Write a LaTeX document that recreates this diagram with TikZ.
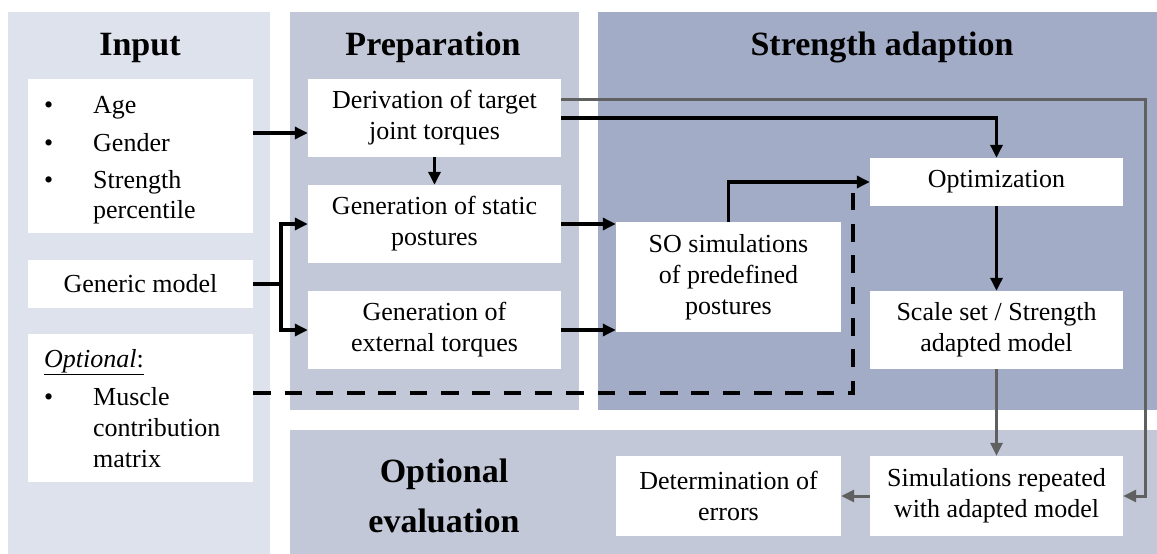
\documentclass[tikz,border=0pt]{standalone}
\usepackage{fontspec}
\setmainfont{Liberation Serif}
\usetikzlibrary{arrows.meta}
\definecolor{panelIn}{RGB}{222,226,236}
\definecolor{panelPrep}{RGB}{194,200,216}
\definecolor{panelStr}{RGB}{163,172,198}
\definecolor{lineGray}{RGB}{96,96,96}
\begin{document}
\begin{tikzpicture}[x=1pt,y=-1pt,
  box/.style={fill=white,inner sep=0pt,align=center,font=\fontsize{26}{31}\selectfont},
  ttl/.style={font=\fontsize{34}{40}\selectfont\bfseries,inner sep=0pt,anchor=base},
  txt/.style={font=\fontsize{26}{31}\selectfont,inner sep=0pt,anchor=base west},
  arr/.style={line width=3.5pt,-{Triangle[length=13pt,width=12pt]}},
  garr/.style={line width=3pt,draw=lineGray,-{Triangle[length=13pt,width=12pt]}},
  dline/.style={line width=4pt,dash pattern=on 17.5pt off 13.8pt}
]
\useasboundingbox (0,0) rectangle (1157,554);
% panels
\fill[panelIn] (8,12) rectangle (270,554);
\fill[panelPrep] (290,12) rectangle (579,410);
\fill[panelStr] (598,12) rectangle (1157,410);
\fill[panelPrep] (290,430) rectangle (1157,554);
% titles
\node[ttl] (tin) at (140,55) {Input};
\node[ttl] (tprep) at (433,55) {Preparation};
\node[ttl] (tstr) at (882,55) {Strength adaption};
\node[ttl] (tev1) at (444,482) {Optional};
\node[ttl] (tev2) at (444,532) {evaluation};
% input boxes
\node[box,minimum width=225pt,minimum height=154pt] (in1) at (140.5,156) {};
\node[txt] (b1) at (44,113) {•};
\node[txt] (w1) at (93,113) {Age};
\node[txt] (b2) at (44,151) {•};
\node[txt] (w2) at (93,151) {Gender};
\node[txt] (b3) at (44,188) {•};
\node[txt] (w3) at (93,188) {Strength};
\node[txt] (w4) at (93,218) {percentile};
\node[box,minimum width=225pt,minimum height=48pt] (gen) at (140.5,284) {Generic model};
\node[box,minimum width=225pt,minimum height=148pt] (opt) at (140.5,408) {};
\node[txt] (o0) at (44,367) {\underline{\textit{Optional}:}};
\node[txt] (ob) at (44,405) {•};
\node[txt] (o1) at (93,405) {Muscle};
\node[txt] (o2) at (93,436) {contribution};
\node[txt] (o3) at (93,467) {matrix};
% preparation
\node[box,minimum width=253pt,minimum height=78pt] (der) at (434.5,118) {Derivation of target\\joint torques};
\node[box,minimum width=253pt,minimum height=78pt] (gst) at (434.5,224) {Generation of static\\postures};
\node[box,minimum width=253pt,minimum height=78pt] (gex) at (434.5,330) {Generation of\\external torques};
% strength adaption
\node[box,minimum width=225pt,minimum height=110pt] (so) at (728.5,277) {SO simulations\\of predefined\\postures};
\node[box,minimum width=253pt,minimum height=48pt] (optim) at (996.5,182) {Optimization};
\node[box,minimum width=253pt,minimum height=78pt] (scale) at (996.5,330) {Scale set / Strength\\adapted model};
% evaluation
\node[box,minimum width=253pt,minimum height=80pt] (sim) at (996.5,496) {Simulations repeated\\with adapted model};
\node[box,minimum width=225pt,minimum height=80pt] (det) at (728.5,496) {Determination of\\errors};
% connectors
\coordinate (a1) at ([yshift=-15pt]der.west);
\draw[arr] (in1.east |- a1) -- (a1);
\draw[arr] (der.south) -- (gst.north);
\coordinate (br) at ([xshift=28pt]gen.east);
\draw[line width=3.5pt] (gen.east) -- (br);
\draw[arr] (br) |- (gst.west);
\draw[arr] (br) |- (gex.west);
\draw[arr] (gst.east) -- (gst.east -| so.west);
\draw[arr] (gex.east) -- (gex.east -| so.west);
\coordinate (dc) at (853,182);
\draw[dline] ([yshift=15pt]opt.east) -| (dc);
\draw[arr] (so.north) |- (optim.west);
\draw[arr] (der.east) -| (optim.north);
\draw[garr] ([yshift=19pt]der.east) -- ++(584,0) |- (sim.east);
\draw[arr] (optim.south) -- (scale.north);
\draw[garr] (scale.south) -- (sim.north);
\draw[garr] (sim.west) -- (det.east);
\end{tikzpicture}
\end{document}
